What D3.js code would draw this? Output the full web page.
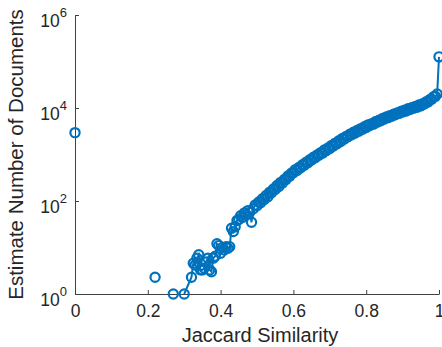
<!DOCTYPE html>
<html>
<head>
<meta charset="utf-8">
<script src="https://cdn.jsdelivr.net/npm/d3@7"></script>
<style>
  html, body { margin: 0; padding: 0; background: #fff; }
  svg { display: block; font-family: "Liberation Sans", Arial, Helvetica, sans-serif; }
  .axis path, .axis line { stroke: #404040; stroke-width: 1; }
  .axis text { fill: #262626; font-size: 17.5px; font-family: "Liberation Sans", Arial, sans-serif; }
</style>
</head>
<body>
<div id="chart"></div>
<script>
// Jaccard similarity of each bin and the estimated number of documents (0 = none, not drawn on log axis)
const similarity = [
  0, 0.01, 0.22, 0.23, 0.27, 0.28, 0.30, 0.32, 0.325, 0.33, 0.335, 0.34, 0.345, 0.35, 0.355,
  0.36, 0.365, 0.37, 0.375, 0.38, 0.385, 0.39, 0.395, 0.40, 0.405, 0.41, 0.415, 0.42, 0.425,
  0.43, 0.435, 0.44, 0.445,
  0.45, 0.455, 0.46, 0.465, 0.47, 0.475, 0.48, 0.485, 0.49, 0.495,
  0.50, 0.505, 0.51, 0.515, 0.52, 0.525, 0.53, 0.535, 0.54, 0.545,
  0.55, 0.555, 0.56, 0.565, 0.57, 0.575, 0.58, 0.585, 0.59, 0.595,
  0.60, 0.605, 0.61, 0.615, 0.62, 0.625, 0.63, 0.635, 0.64, 0.645,
  0.65, 0.655, 0.66, 0.665, 0.67, 0.675, 0.68, 0.685, 0.69, 0.695,
  0.70, 0.705, 0.71, 0.715, 0.72, 0.725, 0.73, 0.735, 0.74, 0.745,
  0.75, 0.755, 0.76, 0.765, 0.77, 0.775, 0.78, 0.785, 0.79, 0.795,
  0.80, 0.805, 0.81, 0.815, 0.82, 0.825, 0.83, 0.835, 0.84, 0.845,
  0.85, 0.855, 0.86, 0.865, 0.87, 0.875, 0.88, 0.885, 0.89, 0.895,
  0.90, 0.905, 0.91, 0.915, 0.92, 0.925, 0.93, 0.935, 0.94, 0.945,
  0.95, 0.955, 0.96, 0.965, 0.97, 0.975, 0.98, 0.985, 0.99, 0.995,
  1.0
];
const estimate = [
  2950, 0, 2.3, 0, 1, 0, 1, 2.3, 4.6, 4.2, 5.9, 7.0, 3.3, 3.3, 3.6,
  4.9, 5.9, 3.3, 3.0, 5.9, 6.5, 12, 11, 7.5, 10, 8.8, 10.4, 9.6, 10.4,
  26, 22, 28, 38,
  40, 48, 44, 55, 50, 62, 57, 35, 68, 82,
  79, 95, 92, 112, 108, 131, 124, 155, 150, 182,
  176, 215, 205, 252, 245, 290, 292, 345, 340, 400,
  405, 470, 455, 525, 520, 600, 590, 680, 665, 770,
  760, 870, 850, 975, 960, 1100, 1070, 1250, 1200, 1380,
  1350, 1570, 1520, 1760, 1700, 1980, 1910, 2220, 2150, 2450,
  2400, 2720, 2650, 3000, 2900, 3280, 3180, 3600, 3500, 3950,
  3820, 4330, 4200, 4620, 4500, 5080, 4950, 5450, 5300, 5950,
  5800, 6400, 6200, 6850, 6650, 7350, 7150, 7850, 7650, 8400,
  8200, 9000, 8650, 9650, 9250, 10100, 9900, 10850, 10400, 11600,
  11100, 12400, 12200, 13600, 13400, 15200, 15400, 17400, 17800, 19950,
  125900
];
const xTicks = [0, 0.2, 0.4, 0.6, 0.8, 1];
const xTickLabels = ["0", "0.2", "0.4", "0.6", "0.8", "1"];
const yTicks = [1, 1e2, 1e4, 1e6];
const yTickExponents = ["0", "2", "4", "6"];

const width = 442, height = 347;
const margin = { top: 15, right: 3, bottom: 53, left: 75 };
const color = "#0072BD";

const data = similarity.map((s, i) => ({ s, v: estimate[i] }));

const svg = d3.select("#chart").append("svg")
  .attr("width", width)
  .attr("height", height);

const x = d3.scaleLinear().domain([0, 1]).range([margin.left, width - margin.right]);
const y = d3.scaleLog().domain([1, 1e6]).range([height - margin.bottom, margin.top]);

// axes (MATLAB style: no box, ticks pointing inward)
svg.append("g")
  .attr("class", "axis")
  .attr("transform", `translate(0,${height - margin.bottom})`)
  .call(d3.axisBottom(x).tickValues(xTicks).tickSizeInner(-4).tickSizeOuter(0).tickPadding(11)
    .tickFormat((d, i) => xTickLabels[i]));

const yAxis = svg.append("g")
  .attr("class", "axis")
  .attr("transform", `translate(${margin.left},0)`)
  .call(d3.axisLeft(y).tickValues(yTicks).tickSizeInner(-4).tickSizeOuter(0).tickFormat(""));

yAxis.selectAll(".tick text").remove();
yAxis.selectAll(".tick").each(function(d, i) {
  const t = d3.select(this).append("text")
    .attr("x", -8)
    .attr("y", 11.5)
    .attr("text-anchor", "end");
  t.append("tspan").text("10");
  t.append("tspan").attr("dy", -10.5).style("font-size", "13px").text(yTickExponents[i]);
});

// line through consecutive non-zero estimates
const line = d3.line()
  .defined(d => d.v > 0)
  .x(d => x(d.s))
  .y(d => y(d.v));

svg.append("path")
  .datum(data)
  .attr("fill", "none")
  .attr("stroke", color)
  .attr("stroke-width", 2)
  .attr("d", line);

svg.selectAll(".dot")
  .data(data.filter(d => d.v > 0))
  .enter().append("circle")
  .attr("class", "dot")
  .attr("cx", d => x(d.s))
  .attr("cy", d => y(d.v))
  .attr("r", 4.6)
  .attr("fill", "none")
  .attr("stroke", color)
  .attr("stroke-width", 2.2);

// axis labels
svg.append("text")
  .attr("x", (margin.left + width - margin.right) / 2 + 3)
  .attr("y", 342)
  .attr("text-anchor", "middle")
  .attr("fill", "#262626")
  .style("font-size", "20px")
  .text("Jaccard Similarity");

svg.append("text")
  .attr("transform", `translate(23,${(margin.top + height - margin.bottom) / 2}) rotate(-90)`)
  .attr("text-anchor", "middle")
  .attr("fill", "#262626")
  .style("font-size", "20.5px")
  .text("Estimate Number of Documents");
</script>
</body>
</html>
